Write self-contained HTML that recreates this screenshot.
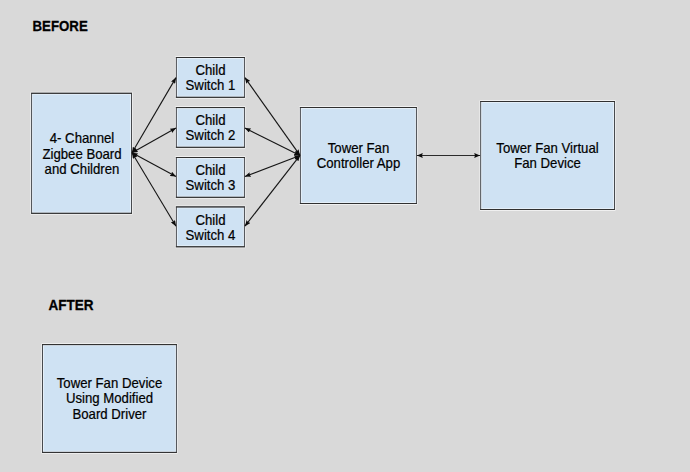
<!DOCTYPE html>
<html><head><meta charset="utf-8">
<style>
html,body{margin:0;padding:0;}
body{width:690px;height:472px;background:#d9d9d9;position:relative;overflow:hidden;font-family:"Liberation Sans",sans-serif;color:#000;}
.t{position:absolute;text-align:center;font-size:13.2px;line-height:15.1px;white-space:nowrap;-webkit-text-stroke:0.2px #000;transform:scaleY(1.04);transform-origin:50% 50%;}
.h{position:absolute;font-weight:bold;font-size:13.5px;line-height:14px;white-space:nowrap;transform:scaleY(1.08);transform-origin:0 11.5px;-webkit-text-stroke:0.25px #000;}
svg{position:absolute;left:0;top:0;}
#t1{transform:translate(0px,0.5px) scaleY(1.04);}
</style></head><body>
<svg width="690" height="472" viewBox="0 0 690 472">
<defs>
<marker id="a" viewBox="0 0 5.9 4.8" refX="5.9" refY="2.4" markerWidth="5.9" markerHeight="4.8" orient="auto-start-reverse" markerUnits="userSpaceOnUse"><path d="M0,0 L5.9,2.4 L0,4.8 L0.8,2.4 z" fill="#0c0c0c"/></marker>
</defs>
<path d="M30.6,92.3 H132.5 M30.6,214.3 H132.5" stroke="#fff" stroke-opacity="0.6" stroke-width="1" fill="none"/>
<path d="M30.6,92.8 V213.8 M132.5,92.8 V213.8" stroke="#fff" stroke-opacity="0.45" stroke-width="1" fill="none"/>
<rect x="31.6" y="93.3" width="99.9" height="120.0" fill="#cfe2f3" stroke="#474a4e" stroke-width="1"/>
<rect x="32.6" y="94.3" width="97.9" height="118.0" fill="none" stroke="#fff" stroke-opacity="0.45" stroke-width="1"/>
<path d="M31.1,93.3 H132.0 M31.1,213.3 H132.0" stroke="#303030" stroke-width="1" fill="none"/>
<path d="M175.4,56.5 H245.4 M175.4,98.3 H245.4" stroke="#fff" stroke-opacity="0.6" stroke-width="1" fill="none"/>
<path d="M175.4,57.0 V97.8 M245.4,57.0 V97.8" stroke="#fff" stroke-opacity="0.45" stroke-width="1" fill="none"/>
<rect x="176.4" y="57.5" width="68" height="39.8" fill="#cfe2f3" stroke="#474a4e" stroke-width="1"/>
<rect x="177.4" y="58.5" width="66" height="37.8" fill="none" stroke="#fff" stroke-opacity="0.45" stroke-width="1"/>
<path d="M175.9,57.5 H244.9 M175.9,97.3 H244.9" stroke="#303030" stroke-width="1" fill="none"/>
<path d="M175.4,106.55 H245.4 M175.4,148.3 H245.4" stroke="#fff" stroke-opacity="0.6" stroke-width="1" fill="none"/>
<path d="M175.4,107.05 V147.8 M245.4,107.05 V147.8" stroke="#fff" stroke-opacity="0.45" stroke-width="1" fill="none"/>
<rect x="176.4" y="107.55" width="68" height="39.75" fill="#cfe2f3" stroke="#474a4e" stroke-width="1"/>
<rect x="177.4" y="108.55" width="66" height="37.75" fill="none" stroke="#fff" stroke-opacity="0.45" stroke-width="1"/>
<path d="M175.9,107.55 H244.9 M175.9,147.3 H244.9" stroke="#303030" stroke-width="1" fill="none"/>
<path d="M175.4,156.5 H245.4 M175.4,198.3 H245.4" stroke="#fff" stroke-opacity="0.6" stroke-width="1" fill="none"/>
<path d="M175.4,157.0 V197.8 M245.4,157.0 V197.8" stroke="#fff" stroke-opacity="0.45" stroke-width="1" fill="none"/>
<rect x="176.4" y="157.5" width="68" height="39.8" fill="#cfe2f3" stroke="#474a4e" stroke-width="1"/>
<rect x="177.4" y="158.5" width="66" height="37.8" fill="none" stroke="#fff" stroke-opacity="0.45" stroke-width="1"/>
<path d="M175.9,157.5 H244.9 M175.9,197.3 H244.9" stroke="#303030" stroke-width="1" fill="none"/>
<path d="M175.4,205.95 H245.4 M175.4,247.75 H245.4" stroke="#fff" stroke-opacity="0.6" stroke-width="1" fill="none"/>
<path d="M175.4,206.45 V247.25 M245.4,206.45 V247.25" stroke="#fff" stroke-opacity="0.45" stroke-width="1" fill="none"/>
<rect x="176.4" y="206.95" width="68" height="39.8" fill="#cfe2f3" stroke="#474a4e" stroke-width="1"/>
<rect x="177.4" y="207.95" width="66" height="37.8" fill="none" stroke="#fff" stroke-opacity="0.45" stroke-width="1"/>
<path d="M175.9,206.95 H244.9 M175.9,246.75 H244.9" stroke="#303030" stroke-width="1" fill="none"/>
<path d="M299.4,106.5 H417.4 M299.4,204.5 H417.4" stroke="#fff" stroke-opacity="0.6" stroke-width="1" fill="none"/>
<path d="M299.4,107.0 V204.0 M417.4,107.0 V204.0" stroke="#fff" stroke-opacity="0.45" stroke-width="1" fill="none"/>
<rect x="300.4" y="107.5" width="116" height="96.0" fill="#cfe2f3" stroke="#474a4e" stroke-width="1"/>
<rect x="301.4" y="108.5" width="114" height="94.0" fill="none" stroke="#fff" stroke-opacity="0.45" stroke-width="1"/>
<path d="M299.9,107.5 H416.9 M299.9,203.5 H416.9" stroke="#303030" stroke-width="1" fill="none"/>
<path d="M479.7,100.5 H615.5 M479.7,210.5 H615.5" stroke="#fff" stroke-opacity="0.6" stroke-width="1" fill="none"/>
<path d="M479.7,101.0 V210.0 M615.5,101.0 V210.0" stroke="#fff" stroke-opacity="0.45" stroke-width="1" fill="none"/>
<rect x="480.7" y="101.5" width="133.8" height="108.0" fill="#cfe2f3" stroke="#474a4e" stroke-width="1"/>
<rect x="481.7" y="102.5" width="131.8" height="106.0" fill="none" stroke="#fff" stroke-opacity="0.45" stroke-width="1"/>
<path d="M480.2,101.5 H615.0 M480.2,209.5 H615.0" stroke="#303030" stroke-width="1" fill="none"/>
<path d="M41.5,343.6 H177.4 M41.5,453.40000000000003 H177.4" stroke="#fff" stroke-opacity="0.6" stroke-width="1" fill="none"/>
<path d="M41.5,344.1 V452.90000000000003 M177.4,344.1 V452.90000000000003" stroke="#fff" stroke-opacity="0.45" stroke-width="1" fill="none"/>
<rect x="42.5" y="344.6" width="133.9" height="107.8" fill="#cfe2f3" stroke="#474a4e" stroke-width="1"/>
<rect x="43.5" y="345.6" width="131.9" height="105.8" fill="none" stroke="#fff" stroke-opacity="0.45" stroke-width="1"/>
<path d="M42.0,344.6 H176.9 M42.0,452.40000000000003 H176.9" stroke="#303030" stroke-width="1" fill="none"/>
<g stroke="#151515" stroke-width="1.1" fill="none" marker-start="url(#a)" marker-end="url(#a)">
<line x1="132.0" y1="152.8" x2="176" y2="77.6"/>
<line x1="132.0" y1="152.8" x2="176" y2="128.0"/>
<line x1="132.0" y1="152.8" x2="176" y2="176.6"/>
<line x1="132.0" y1="152.8" x2="176" y2="226.2"/>
<line x1="244.9" y1="77.6" x2="300.0" y2="155.4"/>
<line x1="244.9" y1="128.0" x2="300.0" y2="155.4"/>
<line x1="244.9" y1="176.6" x2="300.0" y2="155.4"/>
<line x1="244.9" y1="226.2" x2="300.0" y2="155.4"/>
<line x1="416.9" y1="155.5" x2="480.1" y2="155.5" stroke="#2b2b2b" stroke-width="1"/>
</g>
</svg>
<div class="h" style="left:32.5px;top:20px;font-size:13.25px;">BEFORE</div>
<div class="h" style="left:48.5px;top:299px;">AFTER</div>
<div class="t" id="t1" style="left:32px;width:100px;top:130.7px;">4- Channel<br>Zigbee Board<br>and Children</div>
<div class="t" style="left:176px;width:69px;top:62.7px;">Child<br>Switch 1</div>
<div class="t" style="left:176px;width:69px;top:113.0px;">Child<br>Switch 2</div>
<div class="t" style="left:176px;width:69px;top:162.9px;">Child<br>Switch 3</div>
<div class="t" style="left:176px;width:69px;top:212.8px;">Child<br>Switch 4</div>
<div class="t" style="left:300px;width:117px;top:140.6px;">Tower Fan<br>Controller App</div>
<div class="t" style="left:480px;width:135px;top:140.6px;">Tower Fan Virtual<br>Fan Device</div>
<div class="t" style="left:42px;width:135px;top:376.4px;">Tower Fan Device<br>Using Modified<br>Board Driver</div>
</body></html>
